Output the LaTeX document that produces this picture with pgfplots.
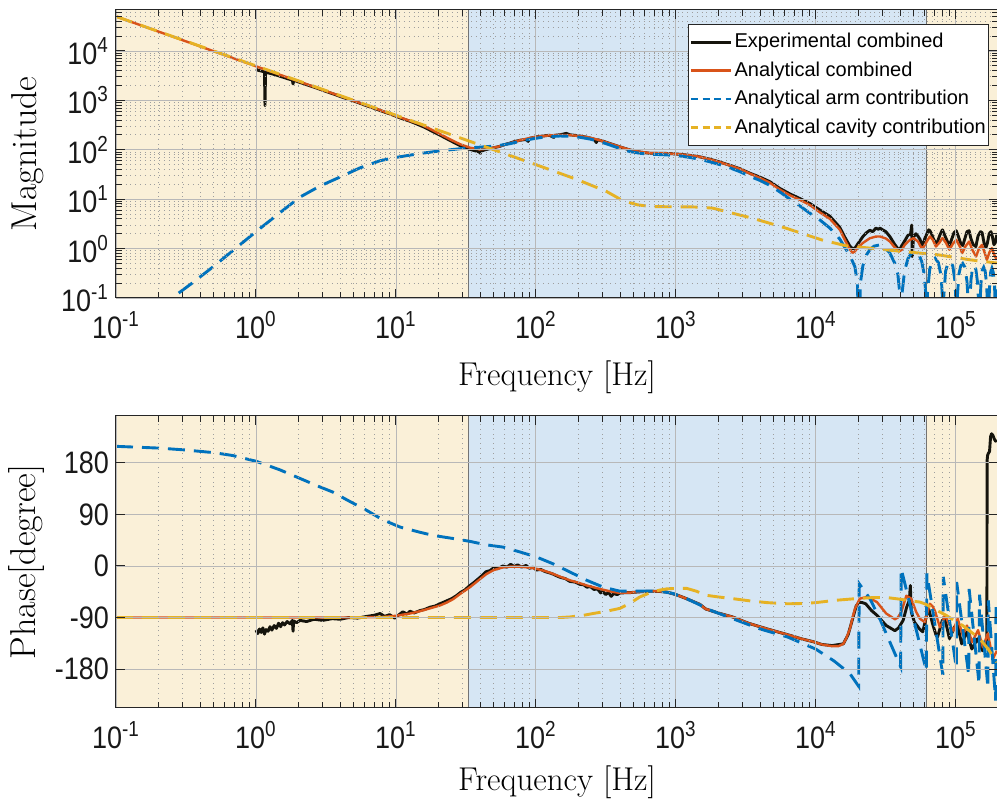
\documentclass[border=0pt]{standalone}
\usepackage{graphicx}
\usepackage{pgfplots}
\pgfplotsset{compat=1.18}
\usepackage{fontspec}
\newfontfamily\arial{Liberation Sans}
\definecolor{mblue}{HTML}{0072BD}
\definecolor{mred}{HTML}{D95319}
\definecolor{myel}{HTML}{E6B224}
\definecolor{expk}{HTML}{15140C}
\definecolor{beige}{HTML}{FAF0D8}
\definecolor{lblue}{HTML}{D6E6F4}
\newcommand\tickfont{\arial\fontsize{13.5}{16}\selectfont}
\newcommand\tl[1]{\scalebox{1}[1.15]{#1}}
\newcommand\te[1]{\scalebox{1}[1.15]{10\textsuperscript{#1}}}
\tikzset{
  explab/.style={color=expk, line width=1.45pt, line join=round},
  redl/.style={color=mred, line width=1.2pt, line join=round},
  bluel/.style={color=mblue, line width=1.45pt, dash pattern=on 8.5pt off 4.5pt},
  yell/.style={color=myel, line width=1.45pt, dash pattern=on 8.5pt off 4.5pt},
}
\pgfplotsset{legend image code/.code={\draw[#1] (0pt,0pt) -- (20pt,0pt);}}
\begin{document}
\begin{tikzpicture}
\path[use as bounding box] (0,0) rectangle (498.5pt,400.5pt);
% ================= Magnitude =================
\begin{axis}[axis on top,
  scale only axis, width=441pt, height=144pt,
  at={(58pt,251.5pt)}, anchor=south west,
  xmode=log, xmin=0.1, xmax=2e5,
  xtick={0.1,1,10,100,1000,10000,100000},
  xticklabels={\te{-1},\te{0},\te{1},\te{2},\te{3},\te{4},\te{5}},
  minor xtick={0.2,0.3,0.4,0.5,0.6,0.7,0.8,0.9,2,3,4,5,6,7,8,9,20,30,40,50,60,70,80,90,200,300,400,500,600,700,800,900,2000,3000,4000,5000,6000,7000,8000,9000,20000,30000,40000,50000,60000,70000,80000,90000},
  ymode=log, ymin=0.1, ymax=67600,
  ytick={0.1,1,10,100,1000,10000},
  yticklabels={\te{-1},\te{0},\te{1},\te{2},\te{3},\te{4}},
  minor ytick={0.2,0.3,0.4,0.5,0.6,0.7,0.8,0.9,2,3,4,5,6,7,8,9,20,30,40,50,60,70,80,90,200,300,400,500,600,700,800,900,2000,3000,4000,5000,6000,7000,8000,9000,20000,30000,40000,50000,60000},
  ticklabel style={font=\tickfont, color=black!90},
  xticklabel style={yshift=-3pt},
  grid=both,
  major grid style={black!28, line width=0.45pt},
  minor grid style={black!38, dotted, line width=0.45pt},
  axis line style={black!85, line width=0.5pt},
  tick style={black!85, line width=0.5pt},
  xlabel={Frequency [Hz]}, ylabel={Magnitude},
  xlabel style={font=\fontsize{16.5}{20}\selectfont, at={(axis description cs:0.5,-0.276)}, anchor=center},
  ylabel style={font=\fontsize{18}{20}\selectfont, at={(axis description cs:-0.0998,0.5)}, anchor=center},
  legend style={at={(0.9898,0.952)}, anchor=north east, font=\arial\fontsize{10}{12}\selectfont,
    draw=black!85, line width=0.4pt, fill=white, inner xsep=0.3pt, inner ysep=1.8pt,
    nodes={inner ysep=2.75pt, inner xsep=1.1pt}},
  legend cell align=left,
]
\addplot[fill=beige, draw=none, forget plot] coordinates {(0.1,0.001) (33,0.001) (33,1e6) (0.1,1e6)} -- cycle;
\addplot[fill=lblue, draw=black!55, line width=0.4pt, forget plot] coordinates {(33,0.001) (62000,0.001) (62000,1e6) (33,1e6)} -- cycle;
\addplot[fill=beige, draw=none, forget plot] coordinates {(62000,0.001) (3e5,0.001) (3e5,1e6) (62000,1e6)} -- cycle;
% Experimental combined
\addplot[explab, forget plot] coordinates {
(1.0,4300) (1.04,4050) (1.08,3950) (1.12,3850) (1.15,3800) (1.16,780) (1.17,3720) (1.22,3600) (1.3,3450) (1.4,3250) (1.5,3050) (1.6,2880) (1.7,2720) (1.82,2580) (1.84,2150) (1.86,2560) (2.0,2380) (2.2,2170) (2.5,1920) (2.8,1720) (3.2,1500) (3.6,1340) (4.0,1200) (4.6,1050) (5.3,915) (6.0,800) (7.0,690) (8.0,600) (9.0,535) (10,478) (11,430) (12.6,378) (14,335) (16,285) (18,240) (20.6,198) (23,168) (26,140) (29,120) (33,104) (36,97) (39.5,90) (40,85) (40.5,94) (44,101) (50,110) (55,117) (60,128) (65,136) (70,146) (77,156) (85,162) (88,148) (90,170) (100,182) (112,190) (125,197) (134,178) (136,196) (150,202) (165,215) (175,201) (190,196) (206,190) (230,180) (260,164) (270,140) (275,160) (300,150) (340,133) (400,114) (470,99) (550,90) (650,85) (770,85) (900,84) (1070,81) (1260,77) (1480,72) (1750,64.5) (2060,56.5) (2430,48.5) (2860,41.5) (3380,33.5) (3980,28) (4700,22.5) (5530,16.5) (6520,12.8) (7690,10.3) (9060,8.2) (10700,6.0) (12600,4.5) (14800,2.7) (16100,1.7) (17500,1.12) (18300,1.0) (19000,1.02) (19950,1.25) (21660,1.75) (23000,2.1) (24310,2.35) (25500,2.2) (26830,2.6) (28000,2.45) (28650,2.6) (30000,2.4) (31620,2.2) (33780,1.75) (36670,1.2) (38500,1.0) (39810,0.98) (41500,1.2) (43220,1.45) (45400,1.85) (47500,2.0) (48400,3.0) (48800,0.69) (49800,1.7) (51800,2.0) (53500,1.8) (55340,1.55) (57000,1.25) (58130,1.15) (60000,1.6) (62100,2.0) (64000,2.4) (65230,2.3) (67000,2.0) (69000,1.6) (72000,1.25) (74000,1.4) (77000,1.9) (80200,2.4) (83000,1.9) (86000,1.5) (89900,1.15) (93000,1.5) (97000,2.1) (100600,2.3) (104000,1.8) (108000,1.3) (112000,1.15) (116000,1.6) (120000,2.2) (124300,2.3) (128000,1.6) (133000,1.2) (139000,1.1) (144000,1.8) (150000,2.2) (154000,2.1) (159000,1.3) (164000,1.05) (168000,1.3) (173000,2.0) (178000,2.2) (182000,1.8) (187000,1.2) (191000,1.3) (196300,1.9)
};
% Analytical combined
\addplot[redl, forget plot] coordinates {
(0.1,50000) (0.3,16500) (1,4900) (3,1630) (7,700) (10,485) (12.6,385) (14.84,330) (17.5,265) (20.62,208) (24.31,163) (28.65,130) (33.8,110) (39.8,102) (46.9,106) (55.3,118) (65.2,136) (76.9,156) (90.6,174) (106.8,187) (125.9,196) (148.4,200) (175,198) (206.2,190) (243.1,176) (286.5,156) (337.8,134) (398.1,115) (469.4,100) (553.4,91) (652.3,86) (768.9,85) (906.3,84) (1068,81) (1259,77) (1484,72) (1750,64) (2062,56) (2431,48) (2865,41) (3378,33) (3981,27) (4694,21.5) (5534,15.6) (6523,12) (7689,9.7) (9064,7.6) (10680,5.4) (12590,4.0) (14840,2.4) (16110,1.5) (17100,1.08) (17800,0.9) (18300,0.82) (19000,0.88) (19950,1.05) (21660,1.3) (24310,1.62) (26800,1.75) (28650,1.76) (31620,1.6) (33780,1.39) (36670,1.05) (39200,0.87) (41150,0.95) (43220,1.2) (46940,1.5) (50000,1.63) (53540,1.4) (56000,1.1) (58130,1.02) (62100,1.4) (65230,1.76) (68500,1.5) (72000,1.1) (76000,1.3) (80200,1.63) (85000,1.3) (89900,0.95) (95190,1.25) (100600,1.5) (106800,1.1) (110800,0.81) (117000,1.1) (124300,1.39) (131000,0.95) (139400,0.69) (146300,1.0) (153700,1.19) (160000,0.85) (166700,0.59) (174000,0.85) (181000,1.02) (188000,0.75) (196300,0.59)
};
% Analytical arm contribution
\addplot[bluel, forget plot] coordinates {
(0.2,0.06) (0.251,0.1) (0.35,0.2) (0.5,0.44) (0.7,0.96) (1.0,2.2) (1.48,5.3) (2.06,11) (2.87,18.5) (3.98,28) (5.53,43) (7.69,60) (10,70) (14.84,84) (20.62,95) (28.65,105) (33.8,110) (39.8,113) (46.9,117) (55.3,123) (65.2,133) (76.9,148) (90.6,163) (106.8,176) (125.9,185) (148.4,190) (175,188) (206.2,179) (243.1,165) (286.5,146) (337.8,125) (398.1,106) (469.4,92) (553.4,85) (652.3,81) (768.9,80) (906.3,78) (1068,75) (1259,70) (1484,64) (1750,57) (2062,50) (2431,43) (2865,36) (3378,29) (3981,24) (4694,19) (5534,14) (6523,10) (7689,7.3) (9064,5.2) (10680,3.8) (12590,2.6) (14840,1.55) (16110,1.05) (17500,0.72) (18990,0.43) (19800,0.2) (20300,0.01) (20800,0.2) (21660,0.45) (23000,0.75) (24310,0.95) (26000,1.12) (28600,1.19) (31000,1.05) (33780,0.81) (36670,0.5) (38520,0.3) (39800,0.12) (40500,0.01) (41200,0.12) (43000,0.35) (45400,0.62) (48000,0.8) (51000,0.87) (54000,0.8) (57000,0.55) (59500,0.3) (61000,0.12) (61800,0.01) (62600,0.12) (65000,0.38) (68000,0.58) (71000,0.64) (75000,0.52) (78500,0.28) (80200,0.1) (81000,0.01) (81800,0.1) (84500,0.35) (88000,0.52) (91000,0.55) (95000,0.45) (98500,0.22) (100300,0.08) (101000,0.01) (101800,0.08) (105000,0.3) (108500,0.45) (112000,0.5) (116000,0.42) (120000,0.22) (123000,0.07) (124000,0.01) (125000,0.07) (128500,0.25) (131500,0.4) (135000,0.45) (139000,0.38) (143000,0.2) (146000,0.06) (147000,0.01) (148000,0.06) (151500,0.22) (154500,0.37) (158000,0.42) (162000,0.35) (166000,0.18) (169000,0.05) (170000,0.01) (171000,0.05) (174500,0.2) (177500,0.34) (181000,0.4) (185000,0.33) (189000,0.17) (192000,0.05) (193000,0.01) (194000,0.05) (196300,0.15)
};
% Analytical cavity contribution
\addplot[yell, forget plot] coordinates {
(0.1,50000) (1,5000) (10,500) (100,50) (193,25.5) (250,19) (320,14.3) (400,10) (470,8.5) (530,7.7) (660,7.1) (1000,7.0) (1300,7.0) (1830,6.6) (2540,5.2) (3540,4.1) (5610,2.8) (7830,2.06) (11000,1.5) (16400,1.14) (24500,1.02) (42300,0.87) (74200,0.75) (127700,0.59) (196300,0.51)
};
\addlegendimage{explab}
\addlegendentry{Experimental combined}
\addlegendimage{redl}
\addlegendentry{Analytical combined}
\addlegendimage{color=mblue, line width=1.45pt, dash pattern=on 3.6pt off 2.2pt}
\addlegendentry{Analytical arm contribution}
\addlegendimage{color=myel, line width=1.45pt, dash pattern=on 3.6pt off 2.2pt}
\addlegendentry{Analytical cavity contribution}
\end{axis}
% ================= Phase =================
\begin{axis}[axis on top,
  scale only axis, width=441pt, height=146pt,
  at={(58pt,46.5pt)}, anchor=south west,
  xmode=log, xmin=0.1, xmax=2e5,
  xtick={0.1,1,10,100,1000,10000,100000},
  xticklabels={\te{-1},\te{0},\te{1},\te{2},\te{3},\te{4},\te{5}},
  minor xtick={0.2,0.3,0.4,0.5,0.6,0.7,0.8,0.9,2,3,4,5,6,7,8,9,20,30,40,50,60,70,80,90,200,300,400,500,600,700,800,900,2000,3000,4000,5000,6000,7000,8000,9000,20000,30000,40000,50000,60000,70000,80000,90000},
  ymin=-248, ymax=262,
  ytick={-180,-90,0,90,180},
  yticklabels={\tl{-180},\tl{-90},\tl{0},\tl{90},\tl{180}},
  ticklabel style={font=\tickfont, color=black!90},
  xticklabel style={yshift=-3pt},
  grid=both,
  major grid style={black!28, line width=0.45pt},
  minor grid style={black!38, dotted, line width=0.45pt},
  axis line style={black!85, line width=0.5pt},
  tick style={black!85, line width=0.5pt},
  xlabel={Frequency [Hz]}, ylabel={Phase[degree]},
  xlabel style={font=\fontsize{16.5}{20}\selectfont, at={(axis description cs:0.5,-0.255)}, anchor=center},
  ylabel style={font=\fontsize{18}{20}\selectfont, at={(axis description cs:-0.102,0.5)}, anchor=center},
]
\addplot[fill=beige, draw=none, forget plot] coordinates {(0.1,-400) (33,-400) (33,400) (0.1,400)} -- cycle;
\addplot[fill=lblue, draw=black!55, line width=0.4pt, forget plot] coordinates {(33,-400) (62000,-400) (62000,400) (33,400)} -- cycle;
\addplot[fill=beige, draw=none, forget plot] coordinates {(62000,-400) (3e5,-400) (3e5,400) (62000,400)} -- cycle;
% Experimental
\addplot[explab] coordinates {
(1.0,-112) (1.03,-118) (1.06,-110) (1.09,-116) (1.12,-108) (1.15,-119) (1.18,-111) (1.22,-114) (1.26,-106) (1.3,-112) (1.35,-104) (1.4,-109) (1.45,-100) (1.5,-106) (1.55,-99) (1.6,-103) (1.67,-97) (1.75,-101) (1.82,-95) (1.84,-114) (1.86,-96) (1.95,-99) (2.06,-95) (2.3,-97) (2.6,-93) (3.0,-95) (3.5,-92) (4.0,-93) (4.6,-90) (5.3,-91) (6.2,-88) (7.0,-86) (7.7,-83) (8.3,-88) (9.0,-85) (9.8,-91) (10.4,-86) (11.2,-80) (12,-84) (12.6,-79) (13.5,-82) (14.8,-78) (16,-76) (17.5,-72) (19,-70) (20.6,-66) (22.5,-62) (25,-57) (27,-52) (29,-46) (31,-42) (33.8,-34) (36,-29) (39.8,-20) (42,-15) (44,-10) (47,-8) (50,-3) (53,-5) (58,0) (62,-2) (66,3) (70,-1) (74,2) (79,-2) (85,1) (90,-4) (95,-2) (101,-7) (108,-6) (117,-10) (125,-12) (132,-14) (140,-17) (150,-20) (162,-22) (175,-27) (190,-28) (206,-32) (220,-33) (231,-37) (245,-36) (260,-41) (275,-40) (290,-47) (300,-44) (315,-50) (330,-46) (345,-53) (360,-48) (380,-50) (400,-47) (470,-46.5) (524,-45.5) (600,-44.5) (688,-44) (768,-44.5) (859,-45.5) (1000,-50) (1133,-55) (1300,-61) (1484,-67) (1630,-75) (2000,-82) (2540,-89) (3300,-100) (4500,-110) (5500,-116) (6500,-121) (7830,-127) (9500,-132) (11000,-137) (13000,-139) (15700,-136) (17000,-120) (18600,-86) (19400,-70) (20300,-63) (21500,-64) (22700,-66) (25000,-78) (27300,-86) (31800,-104) (36700,-113) (39000,-108) (42000,-95) (44500,-72) (46500,-60) (47300,-34) (48000,-80) (50600,-98) (55000,-110) (58000,-115) (62000,-85) (64000,-75) (68000,-100) (72000,-120) (74000,-124) (80000,-95) (83500,-92) (90000,-127) (98000,-106) (103000,-104) (110000,-136) (120000,-115) (130000,-145) (143000,-127) (155000,-148) (163000,-138) (166500,-140) (167300,185) (168500,193) (170000,196) (174000,200) (177000,226) (180000,231) (184000,228) (188000,222) (192000,218) (196300,220)
};
% Analytical combined
\addplot[redl] coordinates {
(0.1,-90) (5,-90) (8,-89) (10,-87) (12.6,-83) (14.8,-79) (17.5,-74) (20.6,-69) (23,-64) (25.6,-58) (28.65,-49) (33.8,-37) (39.8,-23) (44.3,-14) (50,-7) (58,-2.5) (66,-1) (77,-1) (90,-3) (101,-5) (117,-9) (132,-13.5) (150,-19) (175,-25) (206,-30) (231,-34) (270,-38.5) (303,-41.5) (350,-45) (398,-47) (470,-46.5) (524,-45.5) (600,-44.5) (688,-44) (768,-44.5) (859,-45.5) (1000,-50) (1133,-55) (1300,-61) (1484,-67) (1630,-75) (2000,-82) (2540,-89) (3300,-100) (4500,-110) (5500,-116) (6500,-121) (7830,-127) (9500,-132) (11000,-137) (13000,-140) (14500,-140) (15700,-136) (16500,-126) (17500,-110) (18300,-90) (19000,-75) (20600,-57) (23300,-54) (27300,-63) (31800,-83) (36700,-93) (38500,-90) (40800,-80) (44300,-52) (48000,-57) (52000,-80) (55300,-92) (60000,-98) (62500,-82) (65200,-66) (68000,-70) (70800,-78) (76900,-107) (80000,-100) (83500,-86) (90600,-104) (96000,-113) (103000,-92) (112000,-121) (120000,-104) (130500,-133) (144000,-112) (156000,-142) (169000,-118) (184000,-162) (196300,-148)
};
% Arm
\addplot[bluel] coordinates {
(0.1,209) (0.2,206) (0.3,203) (0.5,198) (0.68,193) (1,183) (1.48,168) (2.06,153) (2.87,138) (3.55,129) (4.5,115) (6.2,97) (8,81) (10.7,68) (14.8,59) (18.4,53.5) (25.6,48) (33.8,43) (44,37) (58.3,33) (76.9,24.5) (101,15.7) (132,4) (175,-10.5) (231,-25) (303,-37) (398,-44) (553,-44) (769,-44) (955,-48) (1190,-57) (1484,-68) (1630,-74) (2540,-92) (4000,-110) (6270,-124) (9960,-145) (13500,-166) (17500,-188) (20200,-210) (20400,-31) (24300,-57) (28600,-92) (33800,-133) (40300,-176) (40700,-5) (61500,-183) (62100,-13) (80700,-190) (81300,-19) (100700,-178) (101300,-28) (123600,-191) (124400,-40) (146500,-206) (147500,-50) (169500,-213) (170500,-60) (192500,-235) (193500,-70) (196300,-80)
};
% Cavity
\addplot[yell] coordinates {
(0.1,-90) (150,-90) (175,-89) (220,-86) (256,-83) (320,-79) (398,-74) (470,-65) (553,-54) (620,-49) (688,-45) (770,-42) (859,-40) (1000,-39) (1190,-39) (1400,-44) (1630,-51) (2000,-54) (2540,-57) (3400,-61) (4500,-64) (6270,-66) (8000,-65.5) (9960,-64) (13700,-60) (19300,-57) (26000,-55) (31800,-55) (40000,-58) (48000,-61) (55300,-63) (60000,-66) (66700,-72) (75000,-79) (85000,-86) (97000,-95) (112000,-104) (128000,-115) (148000,-127) (170000,-145) (196300,-168)
};
\end{axis}
\end{tikzpicture}
\end{document}
